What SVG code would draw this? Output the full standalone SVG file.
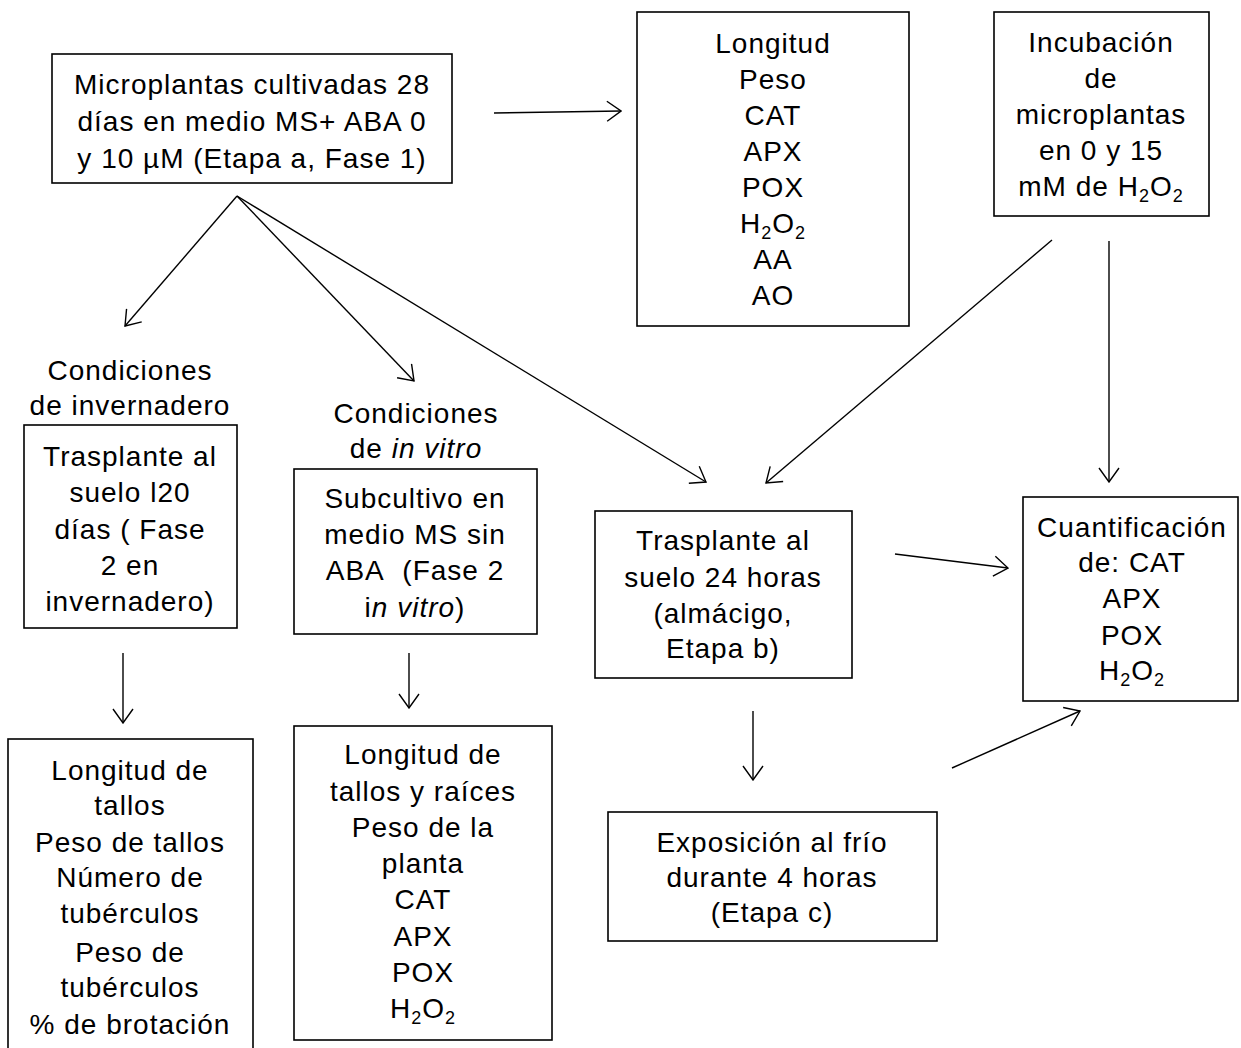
<svg xmlns="http://www.w3.org/2000/svg" width="1241" height="1048" viewBox="0 0 1241 1048">
<style>
rect.box{fill:#fff;stroke:#000;stroke-width:1.6}
text{font-family:"Liberation Sans",Arial,sans-serif;font-size:28px;fill:#000;text-anchor:middle;letter-spacing:1px}
.sub{font-size:18px}
.it{font-style:italic}
#connectors line{stroke:#000;stroke-width:1.4;fill:none;marker-end:url(#ah)}
</style>
<defs>
<marker id="ah" viewBox="0 0 16 22" refX="15" refY="11" markerWidth="16" markerHeight="22" markerUnits="userSpaceOnUse" orient="auto">
<path d="M1,1 L15,11 L1,21" fill="none" stroke="#000" stroke-width="1.4"/>
</marker>
</defs>
<rect width="1241" height="1048" fill="#fff"/>

<g id="connectors">
<line x1="494" y1="113" x2="621" y2="111"/>
<line x1="237" y1="196" x2="125" y2="326"/>
<line x1="237" y1="196" x2="414" y2="381"/>
<line x1="237" y1="196" x2="706" y2="482"/>
<line x1="1052" y1="240" x2="766" y2="483"/>
<line x1="1109" y1="241" x2="1109" y2="482"/>
<line x1="123" y1="653" x2="123" y2="723"/>
<line x1="409" y1="653" x2="409" y2="708"/>
<line x1="895" y1="554" x2="1008" y2="568"/>
<line x1="753" y1="711" x2="753" y2="780"/>
<line x1="952" y1="768" x2="1080" y2="711"/>
</g>

<g id="n_microplantas">
<rect class="box" x="52" y="54" width="400" height="129"/>
<text x="252" y="94">Microplantas cultivadas 28</text>
<text x="252" y="131">días en medio MS+ ABA 0</text>
<text x="252" y="168">y 10 µM (Etapa a, Fase 1)</text>
</g>

<g id="n_longitud_peso">
<rect class="box" x="637" y="12" width="272" height="314"/>
<text x="773" y="53">Longitud</text>
<text x="773" y="89">Peso</text>
<text x="773" y="125">CAT</text>
<text x="773" y="161">APX</text>
<text x="773" y="197">POX</text>
<text x="773" y="233">H<tspan class="sub" dy="6">2</tspan><tspan dy="-6">O</tspan><tspan class="sub" dy="6">2</tspan></text>
<text x="773" y="269">AA</text>
<text x="773" y="305">AO</text>
</g>

<g id="n_incubacion">
<rect class="box" x="994" y="12" width="215" height="204"/>
<text x="1101" y="52">Incubación</text>
<text x="1101" y="88">de</text>
<text x="1101" y="124">microplantas</text>
<text x="1101" y="160">en 0 y 15</text>
<text x="1101" y="196">mM de H<tspan class="sub" dy="6">2</tspan><tspan dy="-6">O</tspan><tspan class="sub" dy="6">2</tspan></text>
</g>

<g id="n_cond_invernadero">
<text x="130" y="380">Condiciones</text>
<text x="130" y="415">de invernadero</text>
</g>

<g id="n_trasplante_l20">
<rect class="box" x="24" y="425" width="213" height="203"/>
<text x="130" y="466">Trasplante al</text>
<text x="130" y="502">suelo l20</text>
<text x="130" y="539">días ( Fase</text>
<text x="130" y="575">2 en</text>
<text x="130" y="611">invernadero)</text>
</g>

<g id="n_cond_invitro">
<text x="416" y="423">Condiciones</text>
<text x="416" y="458">de <tspan class="it">in vitro</tspan></text>
</g>

<g id="n_subcultivo">
<rect class="box" x="294" y="469" width="243" height="165"/>
<text x="415" y="508">Subcultivo en</text>
<text x="415" y="544">medio MS sin</text>
<text x="415" y="580">ABA&#160; (Fase 2</text>
<text x="415" y="617">i<tspan class="it">n vitro</tspan>)</text>
</g>

<g id="n_trasplante_24">
<rect class="box" x="595" y="511" width="257" height="167"/>
<text x="723" y="550">Trasplante al</text>
<text x="723" y="587">suelo 24 horas</text>
<text x="723" y="623">(almácigo,</text>
<text x="723" y="658">Etapa b)</text>
</g>

<g id="n_cuantificacion">
<rect class="box" x="1023" y="497" width="215" height="204"/>
<text x="1132" y="537">Cuantificación</text>
<text x="1132" y="572">de: CAT</text>
<text x="1132" y="608">APX</text>
<text x="1132" y="645">POX</text>
<text x="1132" y="680">H<tspan class="sub" dy="6">2</tspan><tspan dy="-6">O</tspan><tspan class="sub" dy="6">2</tspan></text>
</g>

<g id="n_resultados_invernadero">
<rect class="box" x="8" y="739" width="245" height="320"/>
<text x="130" y="780">Longitud de</text>
<text x="130" y="815">tallos</text>
<text x="130" y="852">Peso de tallos</text>
<text x="130" y="887">Número de</text>
<text x="130" y="923">tubérculos</text>
<text x="130" y="962">Peso de</text>
<text x="130" y="997">tubérculos</text>
<text x="130" y="1034">% de brotación</text>
</g>

<g id="n_resultados_invitro">
<rect class="box" x="294" y="726" width="258" height="314"/>
<text x="423" y="764">Longitud de</text>
<text x="423" y="801">tallos y raíces</text>
<text x="423" y="837">Peso de la</text>
<text x="423" y="873">planta</text>
<text x="423" y="909">CAT</text>
<text x="423" y="946">APX</text>
<text x="423" y="982">POX</text>
<text x="423" y="1018">H<tspan class="sub" dy="6">2</tspan><tspan dy="-6">O</tspan><tspan class="sub" dy="6">2</tspan></text>
</g>

<g id="n_exposicion">
<rect class="box" x="608" y="812" width="329" height="129"/>
<text x="772" y="852">Exposición al frío</text>
<text x="772" y="887">durante 4 horas</text>
<text x="772" y="922">(Etapa c)</text>
</g>
</svg>
